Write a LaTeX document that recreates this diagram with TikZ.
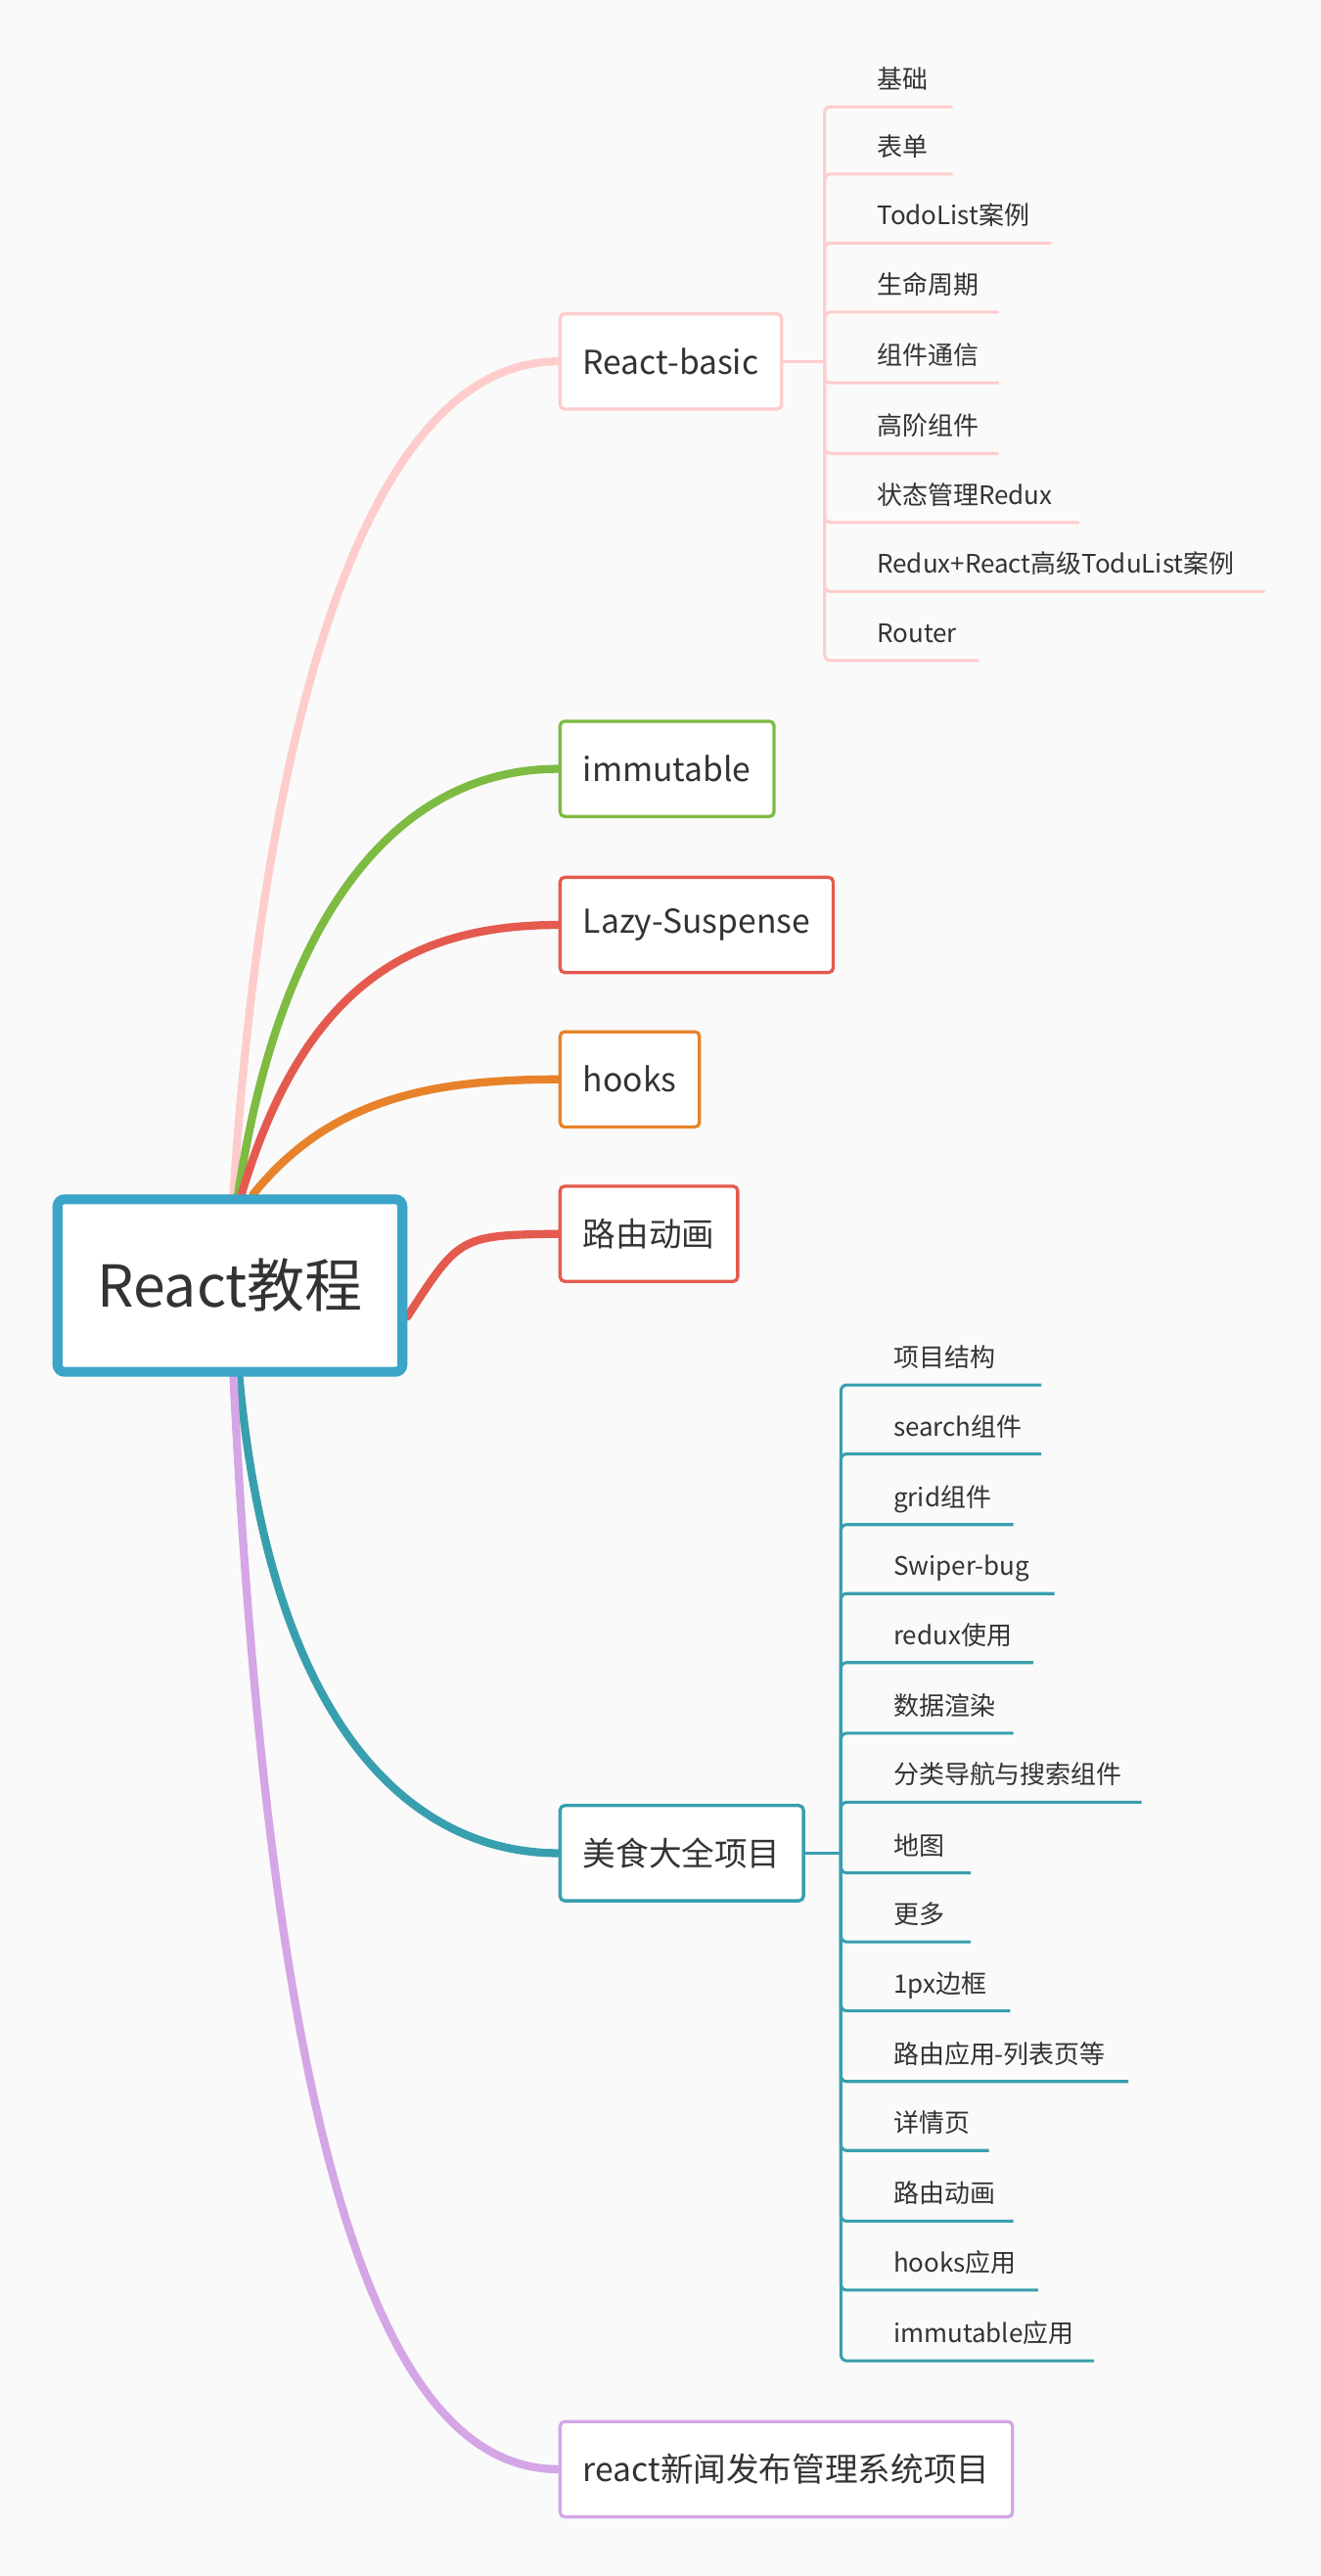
\documentclass[tikz,border=0pt]{standalone}
\usepackage{fontspec}
\setmainfont{Noto Sans CJK SC}
\usetikzlibrary{backgrounds}
\definecolor{txt}{HTML}{333333}
\definecolor{cpink}{HTML}{FFCCCC}
\definecolor{cgreen}{HTML}{7DBB42}
\definecolor{cred}{HTML}{E55A4E}
\definecolor{corange}{HTML}{E8822A}
\definecolor{cteal}{HTML}{389FAE}
\definecolor{cpurple}{HTML}{D4A6E6}
\definecolor{cblue}{HTML}{3BA4C9}
\begin{document}
\begin{tikzpicture}[x=0.05cm,y=-0.05cm,
  topic/.style={rectangle,rounded corners=4pt,fill=white,line width=2.8pt,minimum height=2.9cm,inner xsep=0.7cm,font=\fontsize{28.5}{31}\selectfont,text=txt,anchor=west},
  sub/.style={font=\fontsize{22}{25}\selectfont,text=txt,anchor=base west,inner xsep=0pt,inner ysep=0pt,outer sep=0pt,text depth=0pt},
  main/.style={line width=7pt,line cap=round},
  br/.style={line width=2.6pt,rounded corners=5pt}]
\useasboundingbox (0,0) rectangle (804,1568);

\node[draw=cblue,line width=8.5pt,rounded corners=6pt,fill=white,minimum width=10.5cm,minimum height=5.25cm,font=\fontsize{50}{55}\selectfont,text=txt] (c) at (140,782.5) {React教程};

\node[topic,draw=cpink] (rb) at (340,220) {React-basic};
\node[topic,draw=cgreen] (im) at (340,468) {immutable};
\node[topic,draw=cred] (lz) at (340,563) {Lazy-Suspense};
\node[topic,draw=corange] (hk) at (340,657) {hooks};
\node[topic,draw=cred] (ly) at (340,751) {路由动画};
\node[topic,draw=cteal] (ms) at (340,1128) {美食大全项目};
\node[topic,draw=cpurple] (nw) at (340,1503) {react新闻发布管理系统项目};

\begin{scope}[on background layer]
\fill[fill={rgb,255:red,250;green,250;blue,250}] (0,0) rectangle (804,1568);
\draw[main,cpink] ([xshift=3]c.north) .. controls (160,450) and (220,220) .. (rb.west);
\draw[main,cgreen] ([xshift=7]c.north) .. controls (170,560) and (240,468) .. (im.west);
\draw[main,cred] ([xshift=10]c.north) .. controls (185,600) and (250,563) .. (lz.west);
\draw[main,corange] ([xshift=20]c.north) .. controls (200,670) and (260,657) .. (hk.west);
\draw[main,cred] ([yshift=-27]c.east) .. controls (280,752) .. (ly.west);
\draw[main,cteal] ([xshift=8]c.south) .. controls (165,1050) and (250,1128) .. (ms.west);
\draw[main,cpurple] ([xshift=3]c.south) .. controls (165,1300) and (230,1503) .. (nw.west);
\end{scope}

% React-basic subtopics
\coordinate (rbj) at (502,220);
\draw[cpink,line width=2.6pt] (rb.east) -- (rbj);
\foreach \t/\y/\e [count=\i] in {基础/65/580,表单/106/580,TodoList案例/148/640,生命周期/190/608,组件通信/233/608,高阶组件/276/608,状态管理Redux/318/657,Redux+React高级ToduList案例/360/770,Router/402/596}{
  \node[sub] (r\i) at (534,\y-11) {\t};
  \coordinate (re\i) at (\e,\y);
  \draw[br,cpink] (rbj) |- (re\i);
}

% 美食 subtopics
\coordinate (msj) at (512,1128);
\draw[cteal,line width=2.6pt] (ms.east) -- (msj);
\foreach \t/\y/\e [count=\i] in {项目结构/843/634,search组件/885/634,grid组件/928/617,Swiper-bug/970/642,redux使用/1012/629,数据渲染/1055/617,分类导航与搜索组件/1097/695,地图/1140/591,更多/1182/591,1px边框/1224/615,路由应用-列表页等/1267/687,详情页/1309/602,路由动画/1352/617,hooks应用/1394/632,immutable应用/1437/666}{
  \node[sub] (m\i) at (544,\y-11) {\t};
  \coordinate (me\i) at (\e,\y);
  \draw[br,cteal] (msj) |- (me\i);
}
\end{tikzpicture}
\end{document}
